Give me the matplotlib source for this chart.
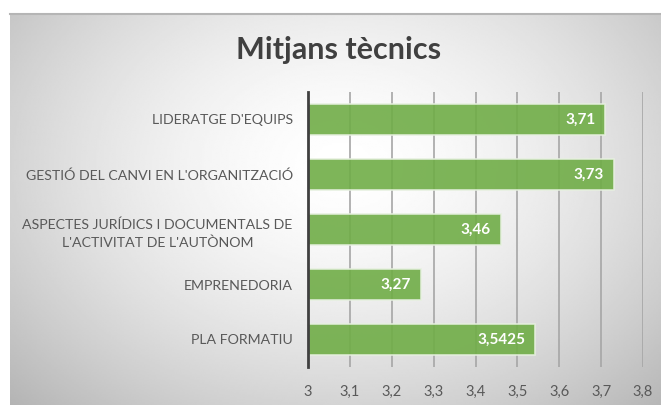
import numpy as np
import matplotlib.pyplot as plt

plt.rcParams['font.family'] = ['Lato', 'DejaVu Sans']

# data (bottom to top)
categories = ["PLA FORMATIU", "EMPRENEDORIA",
              "ASPECTES JURÍDICS I DOCUMENTALS DE\nL'ACTIVITAT DE L'AUTÒNOM",
              "GESTIÓ DEL CANVI EN L'ORGANITZACIÓ", "LIDERATGE D'EQUIPS"]
values = [3.5425, 3.27, 3.46, 3.73, 3.71]
value_labels = ["3,5425", "3,27", "3,46", "3,73", "3,71"]
xticks = [3.0, 3.1, 3.2, 3.3, 3.4, 3.5, 3.6, 3.7, 3.8]
xtick_labels = ["3", "3,1", "3,2", "3,3", "3,4", "3,5", "3,6", "3,7", "3,8"]

W, H = 661, 405
fig = plt.figure(figsize=(W/100, H/100), dpi=100)
fig.patch.set_facecolor('white')

# chart area background: radial gradient (white centre, grey edges)
bg = fig.add_axes([10/W, -0.02, (W-10)/W + 0.02, (H-13)/H + 0.02])
bg.set_zorder(0)
nx, ny = 400, 240
gx, gy = np.meshgrid(np.linspace(0, 1, nx), np.linspace(0, 1, ny))
r = np.sqrt(((gx-0.5)/0.62)**2 + ((gy-0.38)/0.75)**2)
shade = 1.0 - 0.24*np.clip(r, 0, 1.2)**1.6
bg.imshow(shade, cmap='gray', vmin=0, vmax=1, aspect='auto',
          extent=[0, 1, 1, 0], interpolation='bilinear')
bg.set_xlim(0, 1)
bg.set_ylim(1, 0)
bg.axis('off')
bg.plot([0, 1], [0.997, 0.997], color='#B5B5B5', lw=1.5, transform=bg.transAxes, clip_on=False)

ax = fig.add_axes([308/W, 1-367/H, (643-308)/W, (367-92)/H])
ax.set_zorder(2)
ax.patch.set_alpha(0)

y = np.arange(len(categories))
ax.barh(y, np.array(values)-3.0, left=3.0, height=0.58, color='#70AD47', alpha=0.9,
        edgecolor='#E6F0DF', linewidth=1.2, zorder=3)
for yi, v, lab in zip(y, values, value_labels):
    ax.text(v-0.024, yi, lab, ha='right', va='center', color='white',
            fontsize=11, fontweight='bold', zorder=4)

ax.set_xlim(3.0, 3.8)
ax.set_ylim(-0.5, len(categories)-0.5)
for xv in xticks[1:]:
    ax.axvline(xv, color='#A6A6A6', lw=1.2, zorder=1)
ax.set_xticks(xticks)
ax.set_xticklabels(xtick_labels, fontsize=10.5, color='#595959')
ax.set_yticks(y)
ax.set_yticklabels(categories, fontsize=10.2, color='#595959', multialignment='center',
                   linespacing=1.55)
ax.tick_params(axis='both', length=0)
ax.tick_params(axis='y', pad=11)
ax.tick_params(axis='x', pad=13)
for s in ['top', 'right', 'bottom']:
    ax.spines[s].set_visible(False)
ax.spines['left'].set_color('#404040')
ax.spines['left'].set_linewidth(2)
ax.spines['left'].set_zorder(5)

fig.text(339/W, 1-50/H, "Mitjans tècnics", ha='center', va='center',
         fontsize=22, fontweight='bold', color='#404040')

fig.savefig('out.png', dpi=100)
